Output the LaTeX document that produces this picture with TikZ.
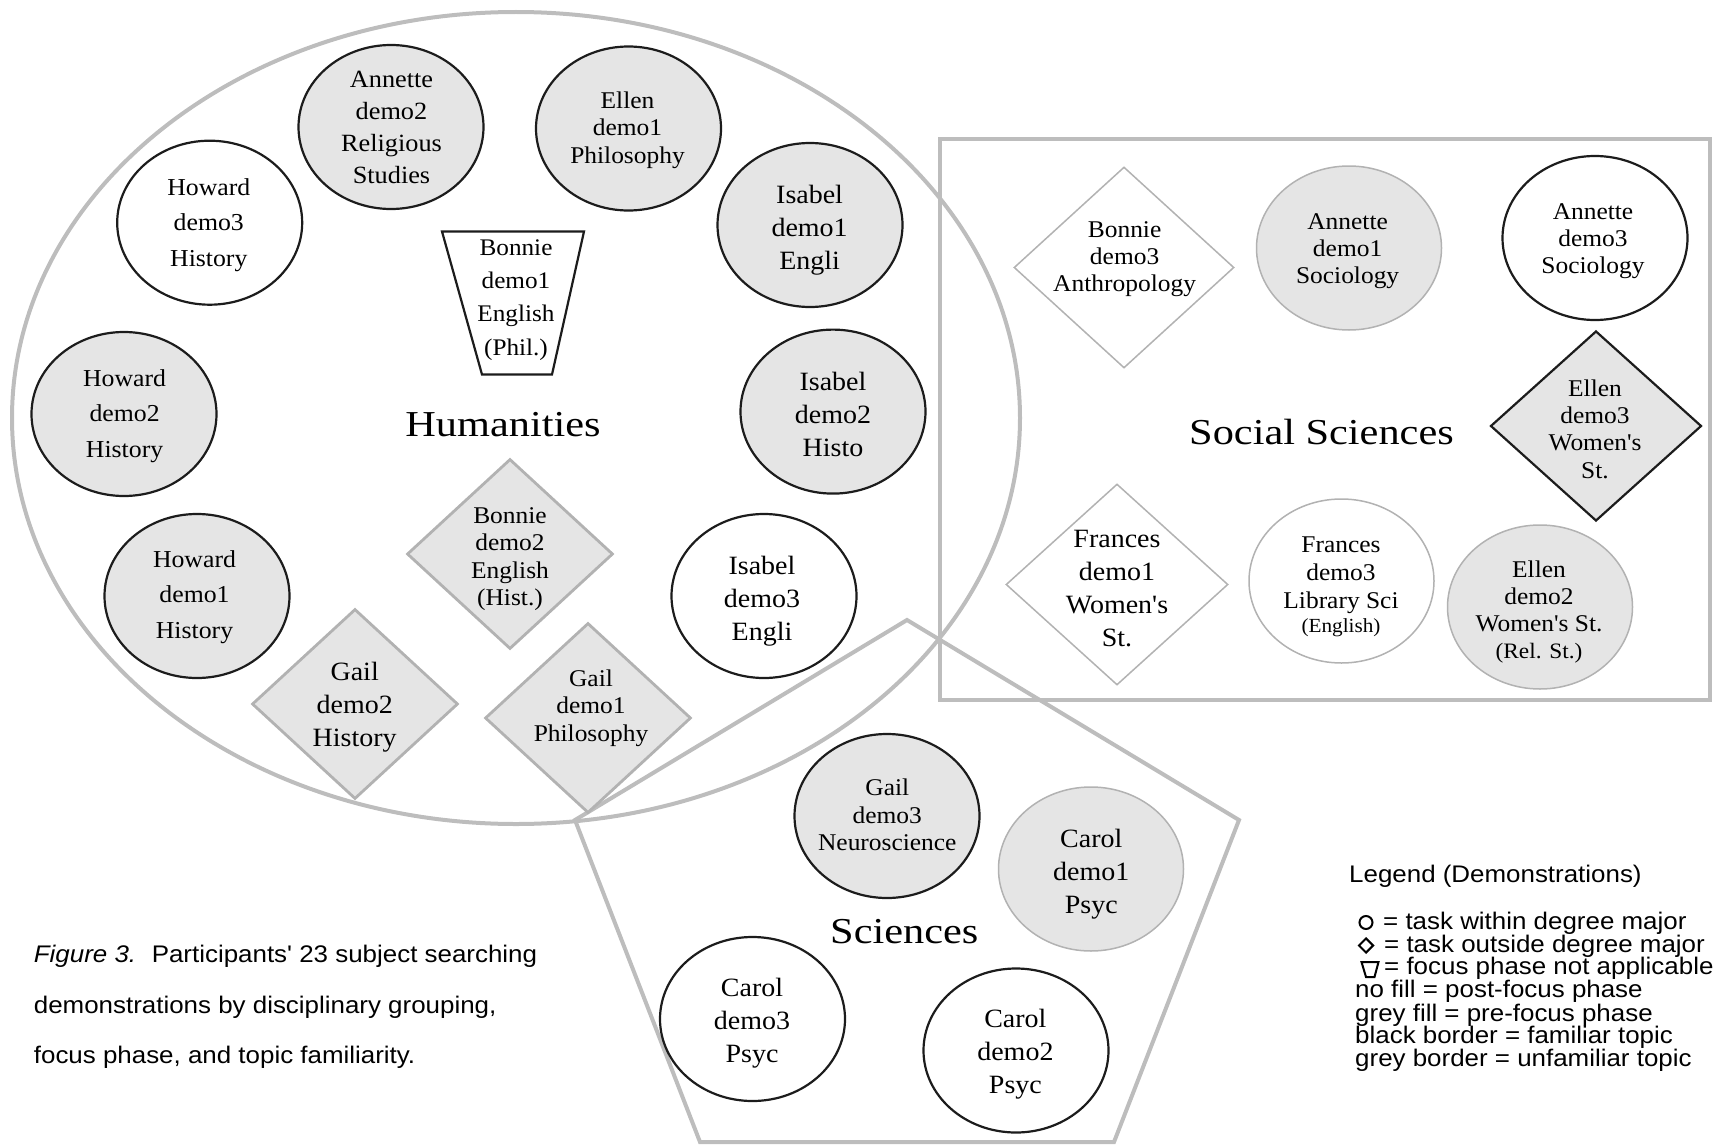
\documentclass[tikz,border=0pt]{standalone}
\usepackage{fontspec}
\setmainfont{Liberation Serif}[FakeStretch=1.06, Ligatures=TeXOff]
\newfontfamily\labelfont{Liberation Serif}[FakeStretch=1.16, Ligatures=TeXOff]
\newfontfamily\notefont{Liberation Sans}[FakeStretch=1.08, Ligatures=TeXOff]
\usetikzlibrary{shapes.geometric}

\definecolor{gfill}{HTML}{E5E5E5}
\definecolor{gline}{HTML}{B2B2B2}
\definecolor{regionline}{HTML}{BDBDBD}
\definecolor{bline}{HTML}{1C1C1C}

\begin{document}
\begin{tikzpicture}[x=1pt,y=-1pt,
  region/.style={draw=regionline, line width=4pt},
  oval/.style={ellipse, inner sep=0pt, minimum width=185pt, minimum height=164pt},
  rhomb/.style={diamond, inner sep=0pt},
  familiar/.style={draw=bline, line width=2.2pt},
  unfamiliar/.style={draw=gline, line width=1.5pt},
  unfamiliarbold/.style={draw=gline, line width=2.8pt},
  prefocus/.style={fill=gfill},
  postfocus/.style={fill=white},
  tA/.style={align=center, inner sep=0pt, font=\fontsize{24}{27.3}\selectfont},
  tB/.style={align=center, inner sep=0pt, font=\fontsize{26.4}{33}\selectfont},
  tH/.style={align=center, inner sep=0pt, font=\fontsize{24.3}{35.4}\selectfont},
  tR/.style={align=center, inner sep=0pt, font=\fontsize{24.8}{32}\selectfont},
  tT/.style={align=center, inner sep=0pt, font=\fontsize{23.8}{33.3}\selectfont},
  grouplabel/.style={inner sep=0pt, font=\labelfont\fontsize{36.5}{40}\selectfont},
  note/.style={anchor=west, inner sep=0pt, text height=17pt, text depth=5pt,
    font=\notefont\fontsize{24}{26}\selectfont},
  legsym/.style={draw=black, line width=2pt, inner sep=0pt},
]
\useasboundingbox (0,0) rectangle (1722,1148);

% disciplinary regions
\draw[region] (516,418) ellipse [x radius=504pt, y radius=406pt];
\draw[region] (940,139) rectangle (1710,700);
\draw[region] (907,620) -- (1239,820) -- (1114,1142) -- (700,1142) -- (575,820) -- cycle;

% ---------- Humanities ----------
\node[oval, familiar, prefocus] (ad2) at (391,127) {};
\node[tR] (ad2t) at (391.5,127) {Annette\\demo2\\Religious\\Studies};

\node[oval, familiar, prefocus] (ed1) at (628.5,128.5) {};
\node[tA] (ed1t) at (627.5,130) {Ellen\\demo1\\Philosophy};

\node[oval, familiar, postfocus] (hd3) at (209.7,222.7) {};
\node[tH] (hd3t) at (208.8,225) {Howard\\demo3\\History};

\node[oval, familiar, prefocus] (id1) at (810,225) {};
\node[tB] (id1t) at (809.6,230) {Isabel\\demo1\\Engli};

% inverted trapezoid: focus phase not applicable
\coordinate (bd1a) at (442,231.5);
\coordinate (bd1b) at (584,231.5);
\coordinate (bd1c) at (552,374.5);
\coordinate (bd1d) at (482,374.5);
\draw[familiar, postfocus] (bd1a) -- (bd1b) -- (bd1c) -- (bd1d) -- cycle;
\node[tT] (bd1t) at (516,300) {Bonnie\\demo1\\English\\(Phil.)};

\node[oval, familiar, prefocus] (hd2) at (124,414) {};
\node[tH] (hd2t) at (124.6,416) {Howard\\demo2\\History};

\node[oval, familiar, prefocus] (id2) at (833,411.6) {};
\node[tB] (id2t) at (833,414) {Isabel\\demo2\\Histo};

\node[grouplabel] (hum) at (503,425) {Humanities};

\node[rhomb, minimum width=206pt, minimum height=190pt, unfamiliarbold, prefocus] (bd2) at (510,554) {};
\node[tA] (bd2t) at (510,559) {Bonnie\\demo2\\English\\(Hist.)};

\node[oval, familiar, prefocus] (hd1) at (197,596) {};
\node[tH] (hd1t) at (194.5,597) {Howard\\demo1\\History};

\node[oval, familiar, postfocus] (id3) at (764,596) {};
\node[tB] (id3t) at (762,601) {Isabel\\demo3\\Engli};

\node[rhomb, minimum width=206pt, minimum height=190pt, unfamiliarbold, prefocus] (gd2) at (355,704) {};
\node[tB] (gd2t) at (354.7,707) {Gail\\demo2\\History};

\node[rhomb, minimum width=206pt, minimum height=190pt, unfamiliarbold, prefocus] (gd1) at (588,718) {};
\node[tA] (gd1t) at (591,708) {Gail\\demo1\\Philosophy};

% ---------- Social Sciences ----------
\node[rhomb, minimum width=220pt, minimum height=201pt, unfamiliar, postfocus] (bd3) at (1124,267.5) {};
\node[tA] (bd3t) at (1124.6,259) {Bonnie\\demo3\\Anthropology};

\node[oval, unfamiliar, prefocus] (ad1) at (1349,248) {};
\node[tA] (ad1t) at (1347.6,251) {Annette\\demo1\\Sociology};

\node[oval, familiar, postfocus] (ad3) at (1595,238) {};
\node[tA] (ad3t) at (1593,241) {Annette\\demo3\\Sociology};

\node[rhomb, minimum width=211pt, minimum height=190pt, familiar, prefocus] (ed3) at (1596,426) {};
\node[tA] (ed3t) at (1595,429) {Ellen\\demo3\\Women's\\St.};

\node[grouplabel] (soc) at (1321.5,432) {Social Sciences};

\node[rhomb, minimum width=222pt, minimum height=201pt, unfamiliar, postfocus] (fd1) at (1117,584.5) {};
\node[tB] (fd1t) at (1117,589) {Frances\\demo1\\Women's\\St.};

\node[oval, unfamiliar, postfocus] (fd3) at (1341.5,581) {};
\node[tA, font=\fontsize{24}{28}\selectfont] (fd3t) at (1341,587) {Frances\\demo3\\Library Sci\\[-3.5pt]{\fontsize{20}{24}\selectfont (English)}};

\node[oval, unfamiliar, prefocus] (ed2) at (1540,607) {};
\node[tA] (ed2t) at (1539,612) {Ellen\\demo2\\Women's St.\\{\fontsize{22}{27.3}\selectfont (Rel. St.)}};

% ---------- Sciences ----------
\node[oval, familiar, prefocus] (gd3) at (887,816) {};
\node[tA] (gd3t) at (887.3,815) {Gail\\demo3\\Neuroscience};

\node[oval, unfamiliar, prefocus] (cd1) at (1091,869) {};
\node[tB] (cd1t) at (1091.3,874) {Carol\\demo1\\Psyc};

\node[grouplabel] (sci) at (904.3,932) {Sciences};

\node[oval, familiar, postfocus] (cd3) at (752.5,1019) {};
\node[tB] (cd3t) at (752,1023) {Carol\\demo3\\Psyc};

\node[oval, familiar, postfocus] (cd2) at (1016,1050.5) {};
\node[tB] (cd2t) at (1015.4,1054) {Carol\\demo2\\Psyc};

% ---------- caption ----------
\node[note] (cap1) at (33.7,956.7) {\textit{Figure 3.}\hspace{0.25em} Participants' 23 subject searching};
\node[note] (cap2) at (33.7,1007) {demonstrations by disciplinary grouping,};
\node[note] (cap3) at (33.7,1057) {focus phase, and topic familiarity.};

% ---------- legend ----------
\node[note] (legtitle) at (1349,876.7) {Legend (Demonstrations)};
\node[legsym, circle, minimum size=13pt] (symcirc) at (1366,922.5) {};
\node[note] (leg1) at (1383,923) {= task within degree major};
\node[legsym, diamond, minimum width=15pt, minimum height=15pt] (symdia) at (1366,945.5) {};
\node[note] (leg2) at (1384,946) {= task outside degree major};
\coordinate (lta) at (1361.5,962);
\coordinate (ltb) at (1378.5,962);
\coordinate (ltc) at (1374.5,977);
\coordinate (ltd) at (1366,977);
\draw[legsym] (lta) -- (ltb) -- (ltc) -- (ltd) -- cycle;
\node[note] (leg3) at (1384,968) {= focus phase not applicable};
\node[note] (leg4) at (1355,991.7) {no fill = post-focus phase};
\node[note] (leg5) at (1355,1015) {grey fill = pre-focus phase};
\node[note] (leg6) at (1355,1037) {black border = familiar topic};
\node[note] (leg7) at (1355,1060) {grey border = unfamiliar topic};
\end{tikzpicture}
\end{document}
